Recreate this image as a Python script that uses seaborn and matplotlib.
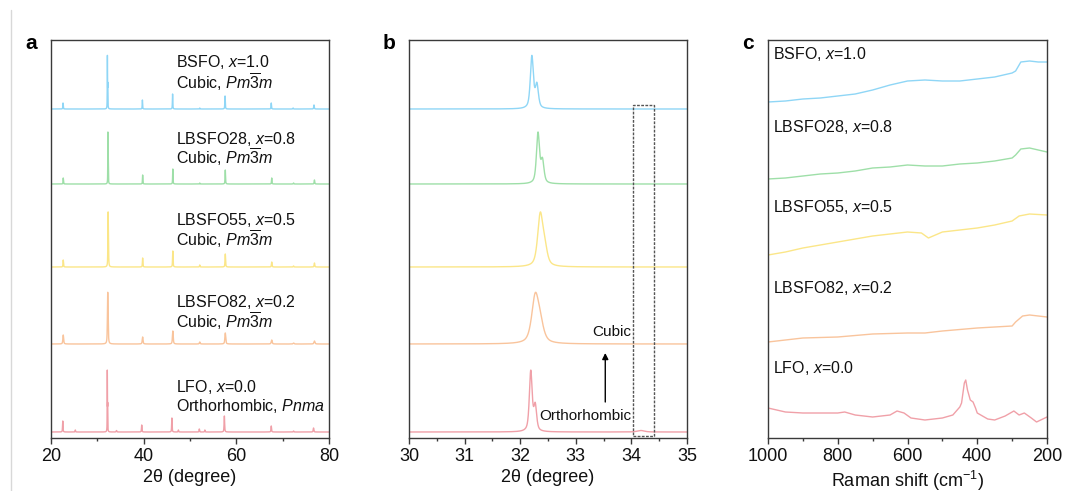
import numpy as np
import pandas as pd
import matplotlib
matplotlib.use("Agg")
import matplotlib.pyplot as plt
import seaborn as sns
from matplotlib.patches import Rectangle
from matplotlib.lines import Line2D

# ---------------- data ----------------
samples = ["LFO", "LBSFO82", "LBSFO55", "LBSFO28", "BSFO"]
x_values = ["0.0", "0.2", "0.5", "0.8", "1.0"]
phases = ["Orthorhombic, $Pnma$", "Cubic, $Pm\\overline{3}m$", "Cubic, $Pm\\overline{3}m$",
          "Cubic, $Pm\\overline{3}m$", "Cubic, $Pm\\overline{3}m$"]
colors = ["#f0a0a8", "#f9c49c", "#fbe688", "#9edfa8", "#8fd6f6"]
offsets = [6, 94, 171, 254, 329]          # vertical stacking offsets (a.u.)

# XRD peak lists: position (deg), height (a.u.), FWHM (deg)
pk_LFO_pos = [22.6, 25.3, 32.19, 32.27, 34.17, 39.6, 46.1, 47.5, 52.0, 53.2, 57.4, 67.5, 72.3, 76.6]
pk_LFO_h   = [11, 2, 60, 25, 1.5, 7, 14, 2, 3, 2, 16, 6, 1, 4]
pk_LFO_w   = [0.12, 0.12, 0.06, 0.06, 0.15, 0.12, 0.12, 0.12, 0.12, 0.12, 0.14, 0.14, 0.14, 0.16]

pk_82_pos = [22.7, 32.27, 32.36, 39.8, 46.3, 52.1, 57.6, 67.6, 72.3, 76.8]
pk_82_h   = [9, 45, 16, 7, 13, 2, 11, 4, 1, 3]
pk_82_w   = [0.2, 0.15, 0.15, 0.2, 0.2, 0.2, 0.22, 0.24, 0.24, 0.26]

pk_55_pos = [22.7, 32.36, 32.44, 39.8, 46.3, 52.1, 57.6, 67.6, 72.3, 76.8]
pk_55_h   = [7, 50, 17, 9, 16, 2, 13, 5, 1, 4]
pk_55_w   = [0.12, 0.11, 0.11, 0.12, 0.13, 0.13, 0.14, 0.15, 0.15, 0.16]

pk_28_pos = [22.7, 32.32, 32.40, 39.8, 46.3, 52.1, 57.6, 67.6, 72.3, 76.8]
pk_28_h   = [6, 50, 22, 9, 15, 1, 14, 6, 1, 4]
pk_28_w   = [0.1, 0.065, 0.065, 0.1, 0.1, 0.1, 0.12, 0.12, 0.12, 0.14]

pk_BS_pos = [22.65, 32.21, 32.30, 39.75, 46.25, 52.1, 57.55, 67.5, 72.2, 76.7]
pk_BS_h   = [6, 52, 23, 9, 15, 1, 13, 6, 1, 4]
pk_BS_w   = [0.1, 0.065, 0.065, 0.1, 0.1, 0.1, 0.12, 0.12, 0.12, 0.14]

peak_tables = [(pk_LFO_pos, pk_LFO_h, pk_LFO_w), (pk_82_pos, pk_82_h, pk_82_w),
               (pk_55_pos, pk_55_h, pk_55_w), (pk_28_pos, pk_28_h, pk_28_w),
               (pk_BS_pos, pk_BS_h, pk_BS_w)]

# Raman spectra (shift in cm^-1, intensity a.u. incl. offset)
ram_BS_x = [1000, 950, 900, 850, 800, 750, 700, 650, 600, 550, 500, 450, 400, 350, 300, 290, 275, 250, 225, 200]
ram_BS_y = [336, 337, 339, 340, 342, 344, 348, 353, 357, 358, 357, 357, 359, 361, 365, 367, 376, 377, 376, 376]
ram_28_x = [1000, 950, 900, 850, 800, 750, 700, 650, 600, 550, 500, 450, 400, 350, 300, 290, 275, 250, 225, 200]
ram_28_y = [259, 260, 262, 264, 265, 267, 270, 271, 273, 272, 272, 274, 275, 277, 280, 283, 289, 290, 288, 286]
ram_55_x = [1000, 950, 900, 850, 800, 750, 700, 650, 600, 560, 540, 520, 500, 450, 400, 350, 300, 280, 250, 200]
ram_55_y = [183, 186, 190, 193, 196, 199, 202, 204, 206, 205, 200, 203, 206, 208, 210, 213, 217, 222, 224, 223]
ram_82_x = [1000, 900, 800, 700, 600, 550, 500, 400, 300, 290, 270, 250, 200]
ram_82_y = [96, 100, 101, 104, 105, 105, 107, 110, 112, 116, 122, 123, 121]
ram_LFO_x = [1000, 950, 900, 800, 780, 750, 700, 650, 630, 610, 590, 550, 500, 470, 450, 445, 437, 433,
             428, 420, 412, 405, 400, 370, 350, 320, 295, 280, 265, 245, 230, 200]
ram_LFO_y = [30, 26, 25, 25, 26, 23, 21, 23, 27, 25, 20, 18, 20, 23, 31, 35, 55, 58,
             48, 38, 36, 30, 25, 19, 18, 22, 27, 23, 25, 20, 16, 21]
raman = [(ram_LFO_x, ram_LFO_y), (ram_82_x, ram_82_y), (ram_55_x, ram_55_y),
         (ram_28_x, ram_28_y), (ram_BS_x, ram_BS_y)]


def pattern(x, pos, h, w, eta=0.6):
    y = np.zeros_like(x)
    for p, hh, ww in zip(pos, h, w):
        g = ww / 2.0
        lor = 1.0 / (1.0 + ((x - p) / g) ** 2)
        gau = np.exp(-np.log(2) * ((x - p) / g) ** 2)
        y += hh * (eta * lor + (1 - eta) * gau)
    return y


# ---------------- style ----------------
sns.set_theme(style="ticks")
plt.rcParams["font.family"] = ["Liberation Sans", "DejaVu Sans"]
plt.rcParams["mathtext.fontset"] = "custom"
plt.rcParams["mathtext.rm"] = "Liberation Sans"
plt.rcParams["mathtext.it"] = "Liberation Sans:italic"
plt.rcParams["mathtext.bf"] = "Liberation Sans:bold"
spine_c = "#3a3a3a"
txt_c = "#111111"
LAB_FS = 13

fig = plt.figure(figsize=(10.67, 4.91), dpi=100)
H = 491.0
W = 1067.0
top, bot = 40, 438
axa = fig.add_axes([50.7 / W, 1 - bot / H, 278.6 / W, (bot - top) / H])
axb = fig.add_axes([409 / W, 1 - bot / H, 278 / W, (bot - top) / H])
axc = fig.add_axes([768 / W, 1 - bot / H, 279 / W, (bot - top) / H])

for ax in (axa, axb, axc):
    for s in ax.spines.values():
        s.set_color(spine_c)
        s.set_linewidth(1.0)
    ax.tick_params(axis="x", which="major", length=4, width=1, color=spine_c,
                   labelsize=13, pad=3, labelcolor=txt_c)
    ax.tick_params(axis="x", which="minor", length=2.5, width=1, color=spine_c)
    ax.tick_params(axis="y", left=False, labelleft=False)

# panel a
xa = np.linspace(20, 80, 12001)
for i in range(5):
    pos, h, w = peak_tables[i]
    ya = pattern(xa, pos, h, w) + offsets[i]
    sns.lineplot(x=xa, y=ya, ax=axa, color=colors[i], linewidth=1.0, estimator=None, sort=False)
axa.set_xlim(20, 80)
axa.set_xticks([20, 40, 60, 80])
axa.set_xticks([30, 50, 70], minor=True)
axa.set_xlabel("2θ (degree)", fontsize=LAB_FS, labelpad=3, color=txt_c)
lab_y = [(51, 32), (136, 117), (218, 199), (299, 281), (376, 356)]
for i in range(5):
    axa.text(47.0, lab_y[i][0], f"{samples[i]}, $x$={x_values[i]}", fontsize=11.5,
             va="center", ha="left", color=txt_c)
    axa.text(47.0, lab_y[i][1], phases[i], fontsize=11.5, va="center", ha="left", color=txt_c)

# panel b
xb = np.linspace(30, 35, 5001)
for i in range(5):
    pos, h, w = peak_tables[i]
    yb = pattern(xb, pos, h, w) + offsets[i]
    sns.lineplot(x=xb, y=yb, ax=axb, color=colors[i], linewidth=1.0, estimator=None, sort=False)
axb.set_xlim(30, 35)
axb.set_xticks([30, 31, 32, 33, 34, 35])
axb.set_xticks([30.5, 31.5, 32.5, 33.5, 34.5], minor=True)
axb.set_xlabel("2θ (degree)", fontsize=LAB_FS, labelpad=3, color=txt_c)
axb.add_patch(Rectangle((34.03, 2), 0.37, 331, fill=False, edgecolor="#555555",
                        linestyle=(0, (2, 1)), linewidth=1.0, zorder=5))
axb.annotate("", xy=(33.53, 85), xytext=(33.53, 36),
             arrowprops=dict(arrowstyle="-|>", color="black", lw=1.0,
                             mutation_scale=9, shrinkA=0, shrinkB=0))
axb.text(34.0, 106, "Cubic", fontsize=11, ha="right", va="center", color=txt_c)
axb.text(34.0, 22, "Orthorhombic", fontsize=11, ha="right", va="center", color=txt_c)

# panel c
for i in range(5):
    rx, ry = raman[i]
    df = pd.DataFrame({"shift": rx, "I": ry})
    sns.lineplot(data=df, x="shift", y="I", ax=axc, color=colors[i], linewidth=1.0,
                 estimator=None, sort=False)
axc.set_xlim(1000, 200)
axc.set_xticks([1000, 800, 600, 400, 200])
axc.set_xticks([900, 700, 500, 300], minor=True)
axc.set_xlabel("Raman shift (cm$^{-1}$)", fontsize=LAB_FS, labelpad=3, color=txt_c)
c_lab_y = [70, 150, 231, 311, 384]
for i in range(5):
    axc.text(985, c_lab_y[i], f"{samples[i]}, $x$={x_values[i]}", fontsize=11.5,
             va="center", ha="left", color=txt_c)

for ax in (axa, axb, axc):
    ax.set_ylim(0, 398)
    ax.set_ylabel("Relative intensity (a.u.)", fontsize=LAB_FS, labelpad=7.5, color=txt_c)

# panel letters
for lx, let in [(25, "a"), (383, "b"), (742, "c")]:
    fig.text(lx / W, 1 - 49 / H, let, fontsize=15, fontweight="bold", va="baseline",
             ha="left", color="black")

# faint left border line
fig.add_artist(Line2D([11 / W, 11 / W], [0, 1 - 10 / H], transform=fig.transFigure,
                      color="#d8d8d8", linewidth=1.0))

fig.savefig("out.png", dpi=100)
